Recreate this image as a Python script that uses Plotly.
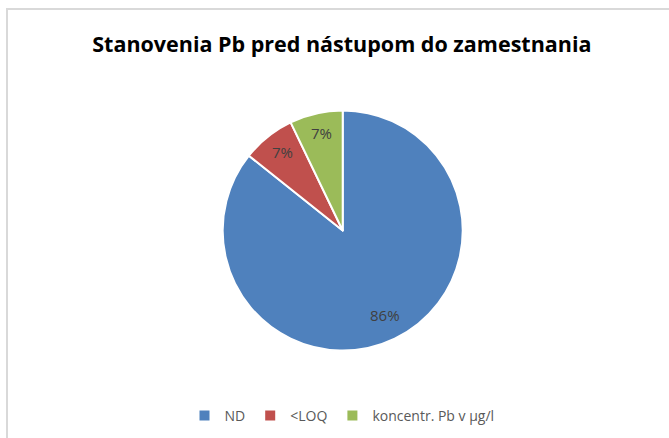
import math
import plotly.graph_objects as go

categories = ["ND", "<LOQ", "koncentr. Pb v µg/l"]
counts = [12, 1, 1]
colors = ["#4F81BD", "#C0504D", "#9BBB59"]

W, H = 669, 438
cx, cy, r = 342.7, 230.5, 120.0
label_frac = 0.81
label_dy = -3  # small upward nudge of data labels (px)

fig = go.Figure(go.Pie(
    labels=categories,
    values=counts,
    sort=False,
    direction="clockwise",
    rotation=0,
    marker=dict(colors=colors, line=dict(color="white", width=2)),
    textinfo="none",
    hoverinfo="label+percent",
    domain=dict(x=[(cx - r) / W, (cx + r) / W], y=[1 - (cy + r) / H, 1 - (cy - r) / H]),
    showlegend=True,
))

# data labels placed at the mid-angle of each slice (Excel style)
total = sum(counts)
annotations = []
start = 0.0
for v in counts:
    frac = v / total
    mid = (start + frac / 2) * 2 * math.pi
    start += frac
    d = label_frac * r
    px = cx + d * math.sin(mid)
    py = cy - d * math.cos(mid) + label_dy
    annotations.append(dict(
        x=px / W, y=1 - py / H, xref="paper", yref="paper",
        text=f"{round(frac * 100)}%", showarrow=False,
        xanchor="center", yanchor="middle",
        font=dict(family="Open Sans", size=15, color="#404040"),
    ))

fig.update_layout(
    width=W, height=H,
    margin=dict(l=0, r=0, t=0, b=0),
    paper_bgcolor="white",
    plot_bgcolor="white",
    title=dict(
        text="<b>Stanovenia Pb pred nástupom do zamestnania</b>",
        x=0.511, xanchor="center", y=1 - 44.5 / H, yanchor="middle",
        font=dict(family="Open Sans", size=21.5, color="#000000"),
    ),
    legend=dict(
        orientation="h", x=342 / W, xanchor="center", y=1 - 416 / H, yanchor="middle",
        font=dict(family="Open Sans", size=14, color="#595959"),
        itemwidth=30, traceorder="normal",
    ),
    annotations=annotations,
    shapes=[dict(
        type="rect", xref="paper", yref="paper",
        x0=7 / W, x1=1.02, y0=-0.02, y1=1 - 9 / H,
        line=dict(color="#D9D9D9", width=2), fillcolor="rgba(0,0,0,0)",
    )],
)

fig.write_html(
    "out.html",
    config={"displayModeBar": False},
    post_script="document.body.style.margin='0px';",
)
